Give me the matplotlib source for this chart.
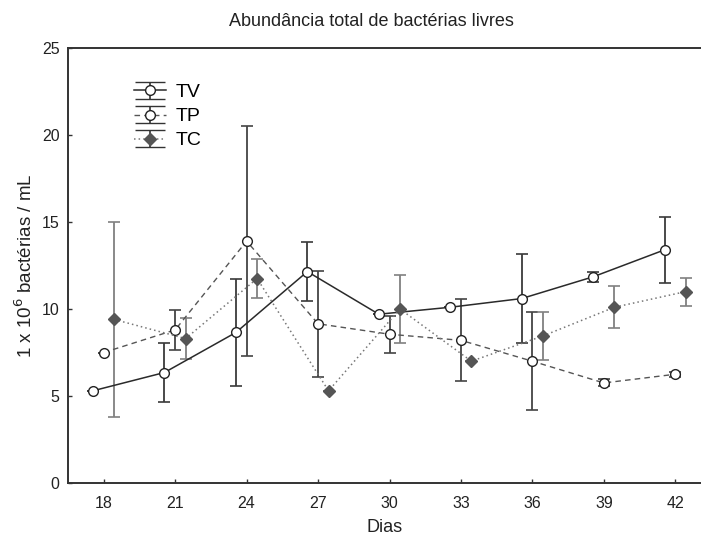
import numpy as np
import matplotlib
matplotlib.use("Agg")
import matplotlib.pyplot as plt
from matplotlib.legend_handler import HandlerErrorbar

plt.rcParams['font.family'] = ['Liberation Sans', 'DejaVu Sans']

dias = [18, 21, 24, 27, 30, 33, 36, 39, 42]
x_ticks = [18, 21, 24, 27, 30, 33, 36, 39, 42]
y_ticks = [0, 5, 10, 15, 20, 25]

tv_mean = [5.3, 6.35, 8.65, 12.15, 9.7, 10.1, 10.6, 11.85, 13.4]
tv_err = [0.0, 1.7, 3.1, 1.7, 0.0, 0.0, 2.55, 0.3, 1.9]

tp_mean = [7.5, 8.8, 13.9, 9.15, 8.55, 8.2, 7.0, 5.75, 6.25]
tp_err = [0.0, 1.15, 6.6, 3.05, 1.05, 2.35, 2.8, 0.2, 0.15]

tc_mean = [9.4, 8.3, 11.75, 5.3, 10.0, 7.0, 8.45, 10.1, 11.0]
tc_err = [5.6, 1.2, 1.1, 0.0, 1.95, 0.0, 1.4, 1.2, 0.8]

W, H = 701, 536
fig = plt.figure(figsize=(W / 100, H / 100), dpi=100)
ax = fig.add_axes([68 / W, 1 - 483 / H, (W - 68) / W, (483 - 48) / H])

d = np.array(dias, dtype=float)
series = [
    ("TV", d - 0.45, tv_mean, tv_err, dict(ls='-', color='#2a2a2a', lw=1.1), 'o', 'white', '#222222', '#3a3a3a', 7),
    ("TP", d, tp_mean, tp_err, dict(ls=(0, (4, 3)), color='#555555', lw=1.0), 'o', 'white', '#222222', '#444444', 7),
    ("TC", d + 0.44, tc_mean, tc_err, dict(ls=(0, (1, 2)), color='#777777', lw=1.1), 'D', '#555555', '#555555', '#808080', 6),
]

handles = []
for name, xs, ys, es, lstyle, mk, mfc, mec, ecol, ms in series:
    ax.errorbar(xs, ys, yerr=es, fmt='none', ecolor=ecol, elinewidth=1.3,
                capsize=4, capthick=1.2, zorder=2)
    ax.plot(xs, ys, marker=mk, markersize=ms, markerfacecolor=mfc,
            markeredgecolor=mec, markeredgewidth=1.0, zorder=3, **lstyle)
    proxy = ax.errorbar([np.nan], [np.nan], yerr=[1.0], marker=mk, markersize=ms,
                        markerfacecolor=mfc, markeredgecolor=mec, markeredgewidth=1.0,
                        ecolor='#333333', elinewidth=1.2, capsize=11, capthick=1.2,
                        label=name, **lstyle)
    handles.append(proxy)

leg = ax.legend(handles=handles, loc='upper left', bbox_to_anchor=(0.105, 0.918),
                frameon=False, fontsize=14, handlelength=1.6, handletextpad=0.5,
                labelspacing=0.33, borderpad=0, borderaxespad=0,
                handler_map={type(handles[0]): HandlerErrorbar(xerr_size=0.5, yerr_size=0.46)})

ax.set_xlim(16.5, 43.08)
ax.set_ylim(0, 25)
ax.set_xticks(x_ticks)
ax.set_yticks(y_ticks)
ax.tick_params(direction='in', length=3, width=1, colors='#333333', labelcolor='#222222', labelsize=11.5)
ax.tick_params(axis='x', pad=9)
ax.tick_params(axis='y', pad=6)
for s in ['left', 'bottom', 'top']:
    ax.spines[s].set_color('#333333')
    ax.spines[s].set_linewidth(1.4)
ax.spines['right'].set_visible(False)

ax.set_title('Abundância total de bactérias livres', fontsize=13, pad=16, color='#222222', x=0.48)
ax.set_xlabel('Dias', fontsize=13, labelpad=6, color='#222222')
ax.set_ylabel('1 x 10$^6$ bactérias / mL', fontsize=13.5, labelpad=4, color='#222222')

fig.savefig('out.png', dpi=100)
